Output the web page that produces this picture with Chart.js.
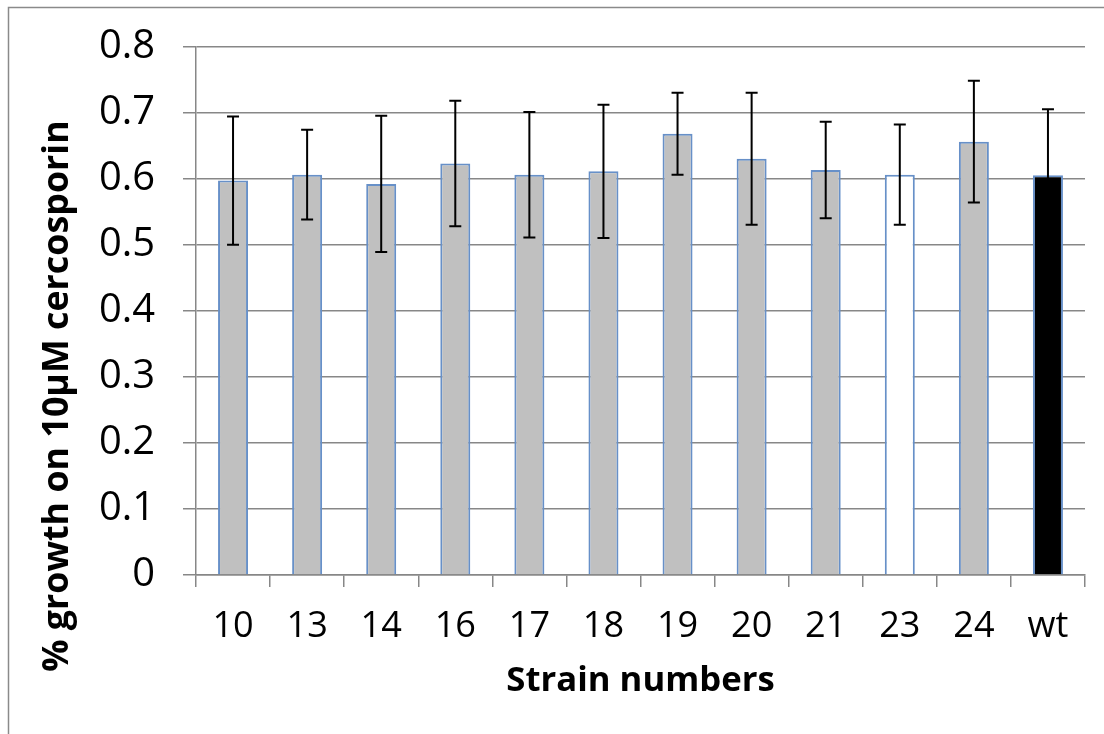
<!DOCTYPE html>
<html>
<head>
<meta charset="utf-8">
<script src="https://cdn.jsdelivr.net/npm/chart.js@4"></script>
<style>
  html, body { margin: 0; padding: 0; background: #fff; }
  #wrap { width: 1104px; height: 734px; position: relative; }
</style>
</head>
<body>
<div id="wrap"><canvas id="chart"></canvas></div>
<script>
const strains = ["10", "13", "14", "16", "17", "18", "19", "20", "21", "23", "24", "wt"];
const growth = [0.597, 0.606, 0.592, 0.623, 0.606, 0.611, 0.668, 0.630, 0.613, 0.606, 0.656, 0.605];
const errors = [0.097, 0.068, 0.103, 0.095, 0.095, 0.101, 0.062, 0.100, 0.073, 0.076, 0.092, 0.100];
const barColors = ["#c0c0c0", "#c0c0c0", "#c0c0c0", "#c0c0c0", "#c0c0c0", "#c0c0c0",
  "#c0c0c0", "#c0c0c0", "#c0c0c0", "#ffffff", "#c0c0c0", "#000000"];
const yTickLabels = ["0", "0.1", "0.2", "0.3", "0.4", "0.5", "0.6", "0.7", "0.8"];
const xTitle = "Strain numbers";
const yTitle = "% growth on 10\u03bcM cercosporin";

const FONT = "'Open Sans', 'Liberation Sans', sans-serif";
const GRID = "#878787";

// pick a font size so the inked text is as wide as in the picture
function fitSize(text, weight, target) {
  const c = document.createElement("canvas").getContext("2d");
  c.font = weight + " 100px " + FONT;
  const m = c.measureText(text);
  const w = (m.actualBoundingBoxLeft || 0) + (m.actualBoundingBoxRight || m.width);
  return Math.round(1000 * target / w) / 10;
}
const yTickSize = fitSize("0.8", "normal", 52);
const xTickSize = fitSize("10", "normal", 36.5);
const xTitleSize = fitSize(xTitle, "bold", 266);
const yTitleSize = fitSize(yTitle, "bold", 548);

// outer frame (only left and top edges are visible in the picture)
const framePlugin = {
  id: "frame",
  beforeDraw(chart) {
    const c = chart.ctx;
    c.save();
    c.strokeStyle = "#8a8a8a";
    c.lineWidth = 1.5;
    c.beginPath();
    c.moveTo(8.5, chart.height + 5);
    c.lineTo(8.5, 7.5);
    c.lineTo(chart.width + 5, 7.5);
    c.stroke();
    c.restore();
  }
};

// y title is centred on the whole chart height, not on the axis
const yTitlePlugin = {
  id: "yTitle",
  afterDraw(chart) {
    const c = chart.ctx;
    c.save();
    c.translate(58, 396);
    c.rotate(-Math.PI / 2);
    c.font = "bold " + yTitleSize + "px " + FONT;
    c.fillStyle = "#000";
    c.textAlign = "center";
    c.textBaseline = "middle";
    c.fillText(yTitle, 0, 0);
    c.restore();
  }
};

const errorBarPlugin = {
  id: "errorBars",
  afterDatasetsDraw(chart) {
    const c = chart.ctx;
    const y = chart.scales.y;
    const meta = chart.getDatasetMeta(0);
    c.save();
    c.strokeStyle = "#000";
    c.lineWidth = 2;
    meta.data.forEach((bar, i) => {
      const top = y.getPixelForValue(growth[i] + errors[i]);
      const bot = y.getPixelForValue(growth[i] - errors[i]);
      c.beginPath();
      c.moveTo(bar.x, top);
      c.lineTo(bar.x, bot);
      c.moveTo(bar.x - 6, top);
      c.lineTo(bar.x + 6, top);
      c.moveTo(bar.x - 6, bot);
      c.lineTo(bar.x + 6, bot);
      c.stroke();
    });
    c.restore();
  }
};

new Chart(document.getElementById("chart"), {
  type: "bar",
  data: {
    labels: strains,
    datasets: [{
      data: growth,
      backgroundColor: barColors,
      borderColor: "#6790c8",
      borderWidth: 2,
      categoryPercentage: 1,
      barPercentage: 0.405
    }]
  },
  options: {
    responsive: true,
    maintainAspectRatio: false,
    animation: false,
    layout: { padding: { top: 46.5, right: 19, left: 0, bottom: 0 } },
    plugins: { legend: { display: false }, tooltip: { enabled: false } },
    scales: {
      x: {
        afterFit: (s) => { s.height = 159; s.paddingLeft = 0; s.paddingRight = 0; },
        grid: { drawOnChartArea: false, color: GRID, lineWidth: 1.5, tickLength: 12, offset: true },
        border: { color: GRID, width: 1.5 },
        ticks: { color: "#000", font: { family: FONT, size: xTickSize }, padding: 18, maxRotation: 0 },
        title: {
          display: true,
          text: xTitle,
          color: "#000",
          font: { family: FONT, size: xTitleSize, weight: "bold" },
          padding: { top: 0, bottom: 32 }
        }
      },
      y: {
        min: 0,
        max: 0.8,
        afterFit: (s) => { s.width = 196; s.paddingTop = 0; s.paddingBottom = 0; },
        grid: { color: GRID, lineWidth: 1.5, tickLength: 13 },
        border: { color: GRID, width: 1.5 },
        ticks: {
          stepSize: 0.1,
          color: "#000",
          font: { family: FONT, size: yTickSize },
          padding: 28,
          callback: (v, i) => yTickLabels[i]
        }
      }
    }
  },
  plugins: [framePlugin, yTitlePlugin, errorBarPlugin]
});
</script>
</body>
</html>
